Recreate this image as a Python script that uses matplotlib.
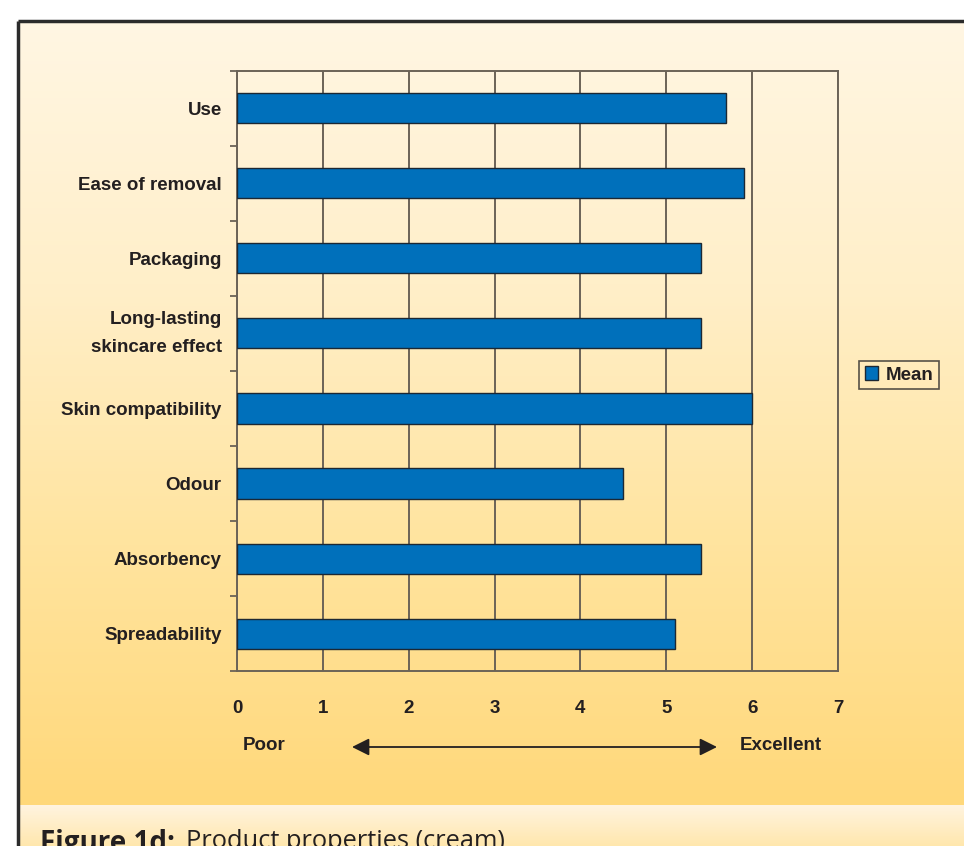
import numpy as np
import matplotlib.pyplot as plt
from matplotlib.colors import LinearSegmentedColormap
from matplotlib.patches import Patch

# product property ratings (mean score, 0 = poor ... 7 = excellent)
properties = ["Use", "Ease of removal", "Packaging", "Long-lasting\nskincare effect",
              "Skin compatibility", "Odour", "Absorbency", "Spreadability"]
mean_scores = [5.7, 5.9, 5.4, 5.4, 6.0, 4.5, 5.4, 5.1]
x_ticks = [0, 1, 2, 3, 4, 5, 6, 7]

W, H = 964, 846
LABEL_FONT = ["Liberation Sans", "DejaVu Sans"]
CAPTION_FONT = ["Open Sans", "DejaVu Sans"]
TEXT_COLOR = "#231f20"
GRID_COLOR = "#6b6357"

fig = plt.figure(figsize=(W / 100, H / 100), dpi=100)
fig.patch.set_facecolor("white")

# background panel with framing lines, drawn in pixel coords
bg = fig.add_axes([0, 0, 1, 1])
bg.set_xlim(0, W)
bg.set_ylim(H, 0)
bg.axis("off")

panel_cmap = LinearSegmentedColormap.from_list(
    "panel", ["#fff6e3", "#ffefc9", "#ffe49f", "#ffd87a"])
grad = np.linspace(0, 1, 256).reshape(-1, 1)
bg.imshow(grad, cmap=panel_cmap, extent=(18, W, 805, 21), aspect="auto", zorder=0)

caption_cmap = LinearSegmentedColormap.from_list("caption", ["#fff4e0", "#ffe7ad"])
bg.imshow(grad, cmap=caption_cmap, extent=(18, W, H, 805), aspect="auto", zorder=0)

bg.plot([18, W], [21, 21], color="#2b2b2b", lw=2.5, solid_capstyle="butt", zorder=2)
bg.plot([18, 18], [21, H], color="#2b2b2b", lw=2.5, solid_capstyle="butt", zorder=2)

# double-headed scale arrow with end labels
bg.annotate("", xy=(352, 747), xytext=(717, 747),
            arrowprops=dict(arrowstyle="<|-|>", color=TEXT_COLOR, lw=1.3,
                            mutation_scale=26, shrinkA=0, shrinkB=0))
bg.text(243, 746, "Poor", fontsize=13.5, fontweight="bold", family=LABEL_FONT,
        color=TEXT_COLOR, ha="left", va="center")
bg.text(740, 746, "Excellent", fontsize=13.5, fontweight="bold", family=LABEL_FONT,
        color=TEXT_COLOR, ha="left", va="center")

# caption (runs off the bottom edge of the panel)
bg.text(40, 829, "Figure 1d:", fontsize=20, fontweight="bold", family=CAPTION_FONT,
        color=TEXT_COLOR, ha="left", va="top")
bg.text(186, 829, "Product properties (cream)", fontsize=18.3, family=CAPTION_FONT,
        color=TEXT_COLOR, ha="left", va="top")

# main bar chart
ax = fig.add_axes([237 / W, 1 - 671 / H, 601 / W, 600 / H])
ax.patch.set_alpha(0)
ypos = np.arange(len(properties))
ax.barh(ypos, mean_scores, height=0.4, color="#0070bb", edgecolor="#1c2833",
        linewidth=1, zorder=3, label="Mean")

ax.set_xlim(0, 7)
ax.set_ylim(len(properties) - 0.5, -0.5)
ax.set_xticks(x_ticks)
ax.set_xticklabels([str(t) for t in x_ticks])
ax.set_yticks(ypos)
ax.set_yticklabels(properties)
ax.set_yticks(np.arange(-0.5, len(properties)), minor=True)
ax.tick_params(axis="y", which="major", length=0, pad=11)
ax.tick_params(axis="y", which="minor", length=5, width=1.3, color=GRID_COLOR)
ax.tick_params(axis="x", length=0, pad=21)
for lab in ax.get_xticklabels() + ax.get_yticklabels():
    lab.set_family(LABEL_FONT)
    lab.set_fontweight("bold")
    lab.set_fontsize(13.5)
    lab.set_color(TEXT_COLOR)
for lab in ax.get_yticklabels():
    if "\n" in lab.get_text():
        lab.set_multialignment("right")
        lab.set_linespacing(1.9)
        lab.set_verticalalignment("center")

ax.grid(axis="x", color=GRID_COLOR, lw=1.4, zorder=1)
for sp in ax.spines.values():
    sp.set_color(GRID_COLOR)
    sp.set_linewidth(1.4)

leg = fig.legend(handles=[Patch(facecolor="#0070bb", edgecolor="#1c2833", label="Mean")],
                 loc="center", bbox_to_anchor=(899 / W, 1 - 375 / H),
                 frameon=True, fancybox=False, handlelength=0.7, handleheight=0.7,
                 handletextpad=0.4, borderpad=0.3,
                 prop=dict(family=LABEL_FONT, weight="bold", size=13.5))
leg.get_frame().set_edgecolor("#2b2b2b")
leg.get_frame().set_facecolor("none")
leg.get_frame().set_linewidth(1.2)
for t in leg.get_texts():
    t.set_color(TEXT_COLOR)

fig.savefig("out.png", dpi=100)
